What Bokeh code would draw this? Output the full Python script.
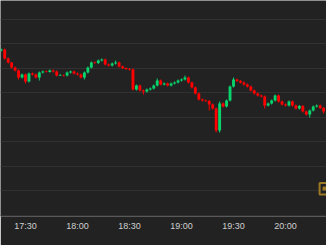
from datetime import datetime, timedelta
from bokeh.plotting import figure
from bokeh.models import Range1d, FixedTicker, DatetimeTickFormatter, ColumnDataSource
from bokeh.embed import file_html
from bokeh.resources import INLINE

# 2-minute candles starting 17:16
start_time = datetime(2024, 1, 1, 17, 16)
first_open = 67084
closes = [67086, 67068, 67060, 67050, 67044, 67030, 67036, 67022, 67038, 67036,
          67030, 67040, 67042, 67041, 67044, 67042, 67034, 67035, 67034, 67040,
          67042, 67038, 67036, 67030, 67040, 67050, 67060, 67059, 67064, 67066,
          67056, 67054, 67058, 67060, 67052, 67049, 67047, 67046, 67006, 67014,
          67004, 67002, 67006, 67008, 67014, 67024, 67016, 67018, 67014, 67018,
          67020, 67024, 67026, 67030, 67020, 67010, 66998, 66986, 66984, 66983,
          66976, 66968, 66924, 66978, 66972, 66984, 67012, 67026, 67023, 67020,
          67016, 67012, 67004, 66998, 66994, 66992, 66974, 66978, 66984, 66994,
          66982, 66976, 66974, 66982, 66974, 66968, 66973, 66962, 66956, 66964,
          66972, 66974, 66969, 66962]
highs = [67088, 67088, 67070, 67061, 67052, 67046, 67038, 67038, 67040, 67040,
         67038, 67042, 67044, 67044, 67046, 67046, 67044, 67037, 67036, 67042,
         67044, 67044, 67040, 67038, 67042, 67052, 67062, 67062, 67066, 67068,
         67068, 67058, 67060, 67064, 67062, 67054, 67050, 67049, 67048, 67016,
         67016, 67006, 67008, 67010, 67016, 67028, 67026, 67020, 67020, 67020,
         67022, 67026, 67028, 67034, 67032, 67022, 67012, 67000, 66988, 66986,
         66985, 66978, 66970, 66982, 66980, 66986, 67014, 67030, 67028, 67025,
         67022, 67018, 67014, 67006, 67000, 66996, 66994, 66980, 66986, 66996,
         66996, 66984, 66978, 66984, 66984, 66976, 66975, 66975, 66964, 66966,
         66974, 66976, 66976, 66971]
lows = [67082, 67066, 67058, 67048, 67042, 67026, 67028, 67018, 67020, 67034,
        67028, 67024, 67038, 67040, 67040, 67040, 67032, 67033, 67032, 67032,
        67038, 67036, 67034, 67028, 67026, 67038, 67048, 67057, 67057, 67062,
        67054, 67052, 67052, 67056, 67050, 67047, 67045, 67044, 67004, 67004,
        67002, 66996, 67000, 67004, 67006, 67012, 67014, 67014, 67012, 67012,
        67016, 67018, 67022, 67024, 67018, 67008, 66996, 66984, 66982, 66981,
        66964, 66966, 66920, 66920, 66970, 66970, 66982, 67010, 67021, 67018,
        67014, 67010, 67002, 66996, 66992, 66990, 66968, 66972, 66976, 66982,
        66980, 66974, 66972, 66972, 66972, 66966, 66966, 66960, 66954, 66950,
        66962, 66970, 66967, 66958]
tick_labels_every_minutes = 30
grid_levels = [66755, 66804, 66853, 66902, 66951, 67000, 67049, 67098, 67147]

opens = [first_open] + closes[:-1]
times = [start_time + timedelta(minutes=2 * i) for i in range(len(closes))]
UP, DOWN = "#08d46c", "#ff0000"
colors = [UP if c >= o else DOWN for o, c in zip(opens, closes)]
src = ColumnDataSource(dict(
    t=times, o=opens, c=closes, h=highs, l=lows,
    top=[max(o, c) for o, c in zip(opens, closes)],
    bot=[min(o, c) for o, c in zip(opens, closes)],
    col=colors))

EPOCH = datetime(1970, 1, 1)
def ms(t):
    return (t - EPOCH).total_seconds() * 1000.0

x0 = datetime(2024, 1, 1, 17, 15, 35)
x1 = datetime(2024, 1, 1, 20, 23, 39)
p = figure(width=326, height=245, x_axis_type="datetime",
           x_range=Range1d(x0, x1), y_range=Range1d(66752, 67184),
           output_backend="svg", toolbar_location=None,
           min_border_left=0, min_border_right=0, min_border_top=0,
           min_border_bottom=29)
p.background_fill_color = "#222222"
p.border_fill_color = "#222222"
p.outline_line_color = None

p.segment(x0="t", y0="h", x1="t", y1="l", color="col", line_width=1, source=src)
p.vbar(x="t", top="top", bottom="bot", width=1.65 * 60000, fill_color="col",
       line_color=None, source=src)

# watermark logo (partial, cut at the right edge)
wx = [datetime(2024, 1, 1, 20, 23, 40), datetime(2024, 1, 1, 20, 19, 40),
      datetime(2024, 1, 1, 20, 19, 40), datetime(2024, 1, 1, 20, 23, 40)]
p.line(x=wx, y=[66819, 66819, 66796, 66796], line_color="#9c7a24", line_width=2)
p.scatter(x=[datetime(2024, 1, 1, 20, 22, 30)], y=[66808], size=3, marker="square",
          color="#9c7a24")

tick_times = [datetime(2024, 1, 1, 17, 0) + timedelta(minutes=tick_labels_every_minutes * k)
              for k in range(8)]
p.xaxis.ticker = FixedTicker(ticks=[ms(t) for t in tick_times])
p.xaxis.formatter = DatetimeTickFormatter(minutes="%H:%M", hours="%H:%M", minsec="%H:%M")
p.xaxis.axis_line_color = None
p.xaxis.major_tick_line_color = None
p.xaxis.minor_tick_line_color = None
p.xaxis.major_tick_out = 0
p.xaxis.major_tick_in = 0
p.xaxis.minor_tick_out = 0
p.xaxis.minor_tick_in = 0
p.xaxis.major_label_text_color = "#cfcfcf"
p.xaxis.major_label_text_font = "Liberation Sans"
p.xaxis.major_label_text_font_size = "9px"
p.xaxis.major_label_standoff = 4
p.xgrid.grid_line_color = None
p.yaxis.visible = False
p.yaxis.ticker = FixedTicker(ticks=grid_levels)
p.ygrid.ticker = FixedTicker(ticks=grid_levels)
p.ygrid.grid_line_color = "#313131"
p.ygrid.grid_line_width = 1

open("out.html", "w").write(file_html(p, INLINE))
